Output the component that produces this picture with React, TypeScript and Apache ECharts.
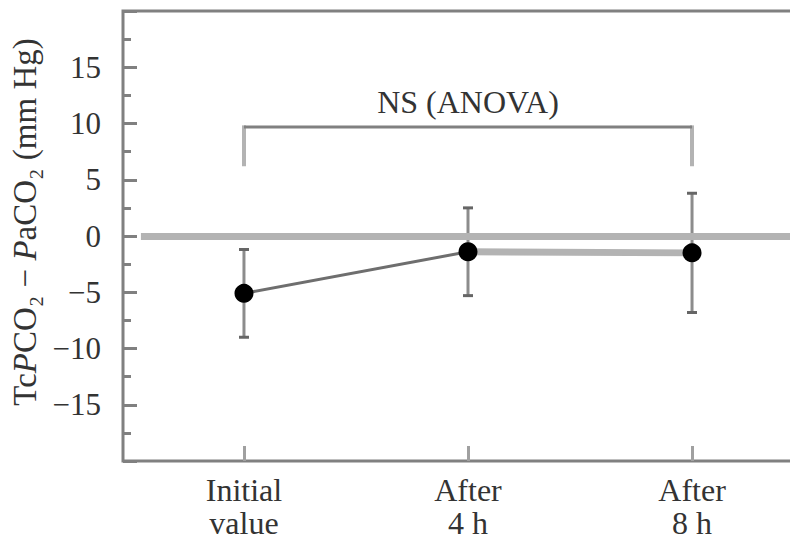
import React, { useEffect, useRef } from "react";
import * as echarts from "echarts";

// Time points on the x axis
const categories = ["Initial\nvalue", "After\n4 h", "After\n8 h"];
// TcPCO2 − PaCO2 difference (mm Hg): mean and error-bar limits
const means = [-5.1, -1.4, -1.5];
const upper = [-1.2, 2.5, 3.8];
const lower = [-9.0, -5.3, -6.8];
// Y tick labels
const yTickLabels = [-15, -10, -5, 0, 5, 10, 15];
// Significance bracket across all time points
const bracketSpan = [0, 2];
const bracketLevels = [6.2, 9.7];
const bracketText = "NS (ANOVA)";
const bracketTextLevel = 11.9;

const FONT = "'Liberation Serif', 'Times New Roman', serif";
const TEXT = "#333333";
const AXIS = "#808080";
const LIGHT = "#b3b3b3";

const minus = (v: number) => (v < 0 ? "\u2212" + Math.abs(v) : String(v));

export default function App() {
  const ref = useRef<HTMLDivElement>(null);

  useEffect(() => {
    document.body.style.margin = "0";
    if (!ref.current) return;
    const chart = echarts.init(ref.current, undefined, { renderer: "svg" });

    const idx = categories.map((_, i) => i);

    chart.setOption({
      animation: false,
      backgroundColor: "#ffffff",
      grid: {
        left: 123,
        top: 11,
        height: 450,
        width: 690,
        outerBoundsMode: "none",
        containLabel: false,
        show: true,
        borderColor: AXIS,
        borderWidth: 3,
        backgroundColor: "transparent",
      },
      xAxis: {
        type: "value",
        min: -0.54,
        max: 2.54,
        splitLine: { show: false },
        axisLine: { show: false, onZero: false },
        axisTick: {
          show: true,
          inside: true,
          length: 15,
          customValues: idx,
          lineStyle: { color: "#a0a0a0", width: 3 },
        },
        axisLabel: {
          customValues: idx,
          formatter: (v: number) => categories[Math.round(v)] ?? "",
          fontFamily: FONT,
          fontSize: 32,
          lineHeight: 33,
          color: TEXT,
          margin: 12,
        },
      },
      yAxis: {
        type: "value",
        min: -20,
        max: 20,
        interval: 5,
        splitLine: { show: false },
        axisLine: { show: false, onZero: false },
        axisTick: {
          show: true,
          inside: true,
          length: 14,
          lineStyle: { color: AXIS, width: 3 },
        },
        minorTick: {
          show: true,
          splitNumber: 2,
          length: 8,
          lineStyle: { color: AXIS, width: 3 },
        },
        axisLabel: {
          customValues: yTickLabels,
          formatter: (v: number) => minus(v),
          fontFamily: FONT,
          fontSize: 31,
          color: TEXT,
          margin: 22,
        },
        name:
          "{n|Tc}{i|P}{n|CO\u2082 \u2212 }{i|P}{n|aCO\u2082 (mm Hg)}",
        nameLocation: "middle",
        nameRotate: 90,
        nameGap: 67,
        nameTextStyle: {
          padding: [0, 0, 0, 28],
          rich: {
            n: { fontFamily: FONT, fontSize: 33, color: TEXT },
            i: { fontFamily: FONT, fontSize: 33, fontStyle: "italic", color: TEXT },
          },
        },
      },
      series: [
        // 4 h → 8 h, with the zero reference line underneath
        {
          type: "line",
          z: 2,
          symbol: "none",
          data: [1, 2].map((i) => [i, means[i]]),
          lineStyle: { color: LIGHT, width: 7 },
          markLine: {
            silent: true,
            symbol: "none",
            label: { show: false },
            lineStyle: { color: LIGHT, width: 7, type: "solid" },
            data: [[{ coord: [-0.46, 0] }, { coord: [2.5, 0] }]],
          },
        },
        // Error bars
        {
          type: "custom",
          z: 3,
          clip: false,
          data: idx.map((i) => [i, lower[i], upper[i]]),
          renderItem: (_p: any, api: any) => {
            const x = api.value(0);
            const lo = api.coord([x, api.value(1)]);
            const hi = api.coord([x, api.value(2)]);
            const cap = 5;
            return {
              type: "group",
              children: [
                {
                  type: "line",
                  shape: { x1: lo[0], y1: lo[1], x2: hi[0], y2: hi[1] },
                  style: { stroke: "#8c8c8c", lineWidth: 3 },
                },
                {
                  type: "line",
                  shape: { x1: lo[0] - cap, y1: lo[1], x2: lo[0] + cap, y2: lo[1] },
                  style: { stroke: "#666666", lineWidth: 3 },
                },
                {
                  type: "line",
                  shape: { x1: hi[0] - cap, y1: hi[1], x2: hi[0] + cap, y2: hi[1] },
                  style: { stroke: "#666666", lineWidth: 3 },
                },
              ],
            };
          },
        },
        // Initial → 4 h
        {
          type: "line",
          z: 4,
          symbol: "none",
          data: [0, 1].map((i) => [i, means[i]]),
          lineStyle: { color: "#6e6e6e", width: 3 },
        },
        // Means
        {
          type: "scatter",
          z: 5,
          symbol: "circle",
          symbolSize: 19,
          itemStyle: { color: "#000000", opacity: 1 },
          data: idx.map((i) => [i, means[i]]),
        },
        // NS bracket
        {
          type: "custom",
          z: 3,
          clip: false,
          data: [[bracketSpan[0], bracketSpan[1], bracketLevels[0], bracketLevels[1]]],
          renderItem: (_p: any, api: any) => {
            const a = api.value(0);
            const b = api.value(1);
            const foot = api.value(2);
            const top = api.value(3);
            const tl = api.coord([a, top]);
            const tr = api.coord([b, top]);
            const bl = api.coord([a, foot]);
            const br = api.coord([b, foot]);
            const t = api.coord([(a + b) / 2, bracketTextLevel]);
            return {
              type: "group",
              children: [
                {
                  type: "line",
                  shape: { x1: bl[0], y1: bl[1], x2: tl[0], y2: tl[1] - 1.5 },
                  style: { stroke: LIGHT, lineWidth: 4 },
                },
                {
                  type: "line",
                  shape: { x1: br[0], y1: br[1], x2: tr[0], y2: tr[1] - 1.5 },
                  style: { stroke: LIGHT, lineWidth: 4 },
                },
                {
                  type: "line",
                  shape: { x1: tl[0], y1: tl[1], x2: tr[0], y2: tr[1] },
                  style: { stroke: AXIS, lineWidth: 3 },
                },
                {
                  type: "text",
                  x: t[0],
                  y: t[1],
                  style: {
                    text: bracketText,
                    fontFamily: FONT,
                    fontSize: 32,
                    fill: TEXT,
                    align: "center",
                    verticalAlign: "middle",
                  },
                },
              ],
            };
          },
        },
      ],
    });

    return () => chart.dispose();
  }, []);

  return <div ref={ref} style={{ width: 790, height: 543 }} />;
}
